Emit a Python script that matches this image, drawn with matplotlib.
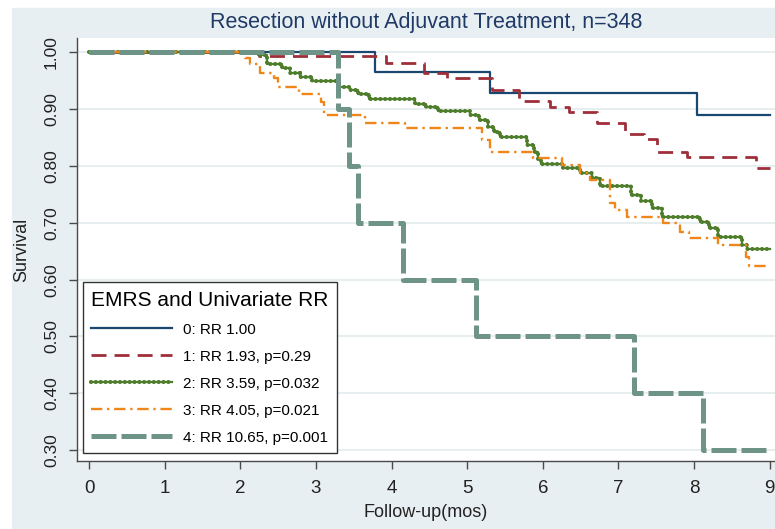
import numpy as np
import matplotlib
matplotlib.use("Agg")
import matplotlib.pyplot as plt
from matplotlib.patches import Rectangle

# ------------------------------------------------------------
# Data
# ------------------------------------------------------------
title = "Resection without Adjuvant Treatment, n=348"
legend_title = "EMRS and Univariate RR"
labels = [
    "0: RR 1.00",
    "1: RR 1.93, p=0.29",
    "2: RR 3.59, p=0.032",
    "3: RR 4.05, p=0.021",
    "4: RR 10.65, p=0.001",
]

x_end = 9.0

# step times (months) and survival after each step
t0 = [3.78, 5.30, 8.04]
s0 = [0.965, 0.928, 0.890]

t1 = [2.25, 3.92, 4.43, 4.73, 5.33, 5.68, 6.09, 6.34, 6.71, 7.08, 7.34, 7.51,
      7.91, 8.82]
s1 = [0.993, 0.981, 0.963, 0.954, 0.933, 0.915, 0.904, 0.895, 0.876, 0.857,
      0.847, 0.825, 0.816, 0.796]

t2 = [2.24, 2.35, 2.55, 2.66, 2.79, 2.95, 3.30, 3.45, 3.55, 3.70, 4.31, 4.45,
      4.62, 5.04, 5.15, 5.28, 5.36, 5.44, 5.79, 5.88, 5.94, 5.98, 6.27, 6.49,
      6.65, 6.76, 7.16, 7.30, 7.45, 7.58, 8.08, 8.20, 8.31, 8.64, 8.70]
s2 = [0.995, 0.980, 0.972, 0.964, 0.957, 0.950, 0.939, 0.933, 0.926, 0.917,
      0.909, 0.904, 0.897, 0.889, 0.880, 0.868, 0.859, 0.850, 0.837, 0.824,
      0.813, 0.803, 0.796, 0.787, 0.779, 0.765, 0.749, 0.738, 0.726, 0.711,
      0.702, 0.690, 0.675, 0.661, 0.654]

t3 = [2.06, 2.13, 2.26, 2.44, 2.50, 2.77, 3.06, 3.10, 3.65, 4.18, 5.20, 5.30,
      5.87, 6.25, 6.49, 6.63, 6.89, 6.95, 7.11, 7.59, 7.82, 7.93, 8.31, 8.68,
      8.72]
s3 = [0.990, 0.980, 0.963, 0.955, 0.939, 0.927, 0.913, 0.889, 0.876, 0.866,
      0.845, 0.825, 0.814, 0.801, 0.787, 0.775, 0.735, 0.722, 0.711, 0.700,
      0.684, 0.673, 0.661, 0.640, 0.624]

t4 = [3.29, 3.44, 3.55, 4.15, 5.11, 7.21, 8.12]
s4 = [0.90, 0.80, 0.70, 0.60, 0.50, 0.40, 0.30]

x_ticks = list(range(0, 10))
y_ticks = [0.30, 0.40, 0.50, 0.60, 0.70, 0.80, 0.90, 1.00]

# ------------------------------------------------------------
# Style
# ------------------------------------------------------------
BG = "#e8eff2"
GRID = "#e2ebee"
AXIS = "#4a4a4a"
C_BLUE = "#1a476f"
C_RED = "#9e2f3a"
C_GREEN = "#4e7d2b"
C_ORANGE = "#f08519"
C_TEAL = "#6e9387"

FONT = "Liberation Sans"


def curve(times, surv):
    x = np.r_[0.0, times, x_end]
    y = np.r_[1.0, surv, surv[-1]]
    return x, y


fig = plt.figure(figsize=(7.75, 5.29), dpi=100)
fig.patch.set_facecolor("white")
fig.patches.append(Rectangle((12 / 775, 0), 1, 1 - 8 / 529,
                             transform=fig.transFigure, color=BG, zorder=-10))

ax = fig.add_axes([77 / 775, 1 - 461 / 529, 1 - 77 / 775, (461 - 38) / 529])
ax.set_facecolor("white")
ax.set_xlim(-0.16, 9.07)
ax.set_ylim(0.281, 1.025)

for y in y_ticks:
    ax.axhline(y, color=GRID, lw=1.2, zorder=0)

# curves
x, y = curve(t0, s0)
h0, = ax.step(x, y, where="post", color=C_BLUE, lw=1.6)

x, y = curve(t1, s1)
h1, = ax.step(x, y, where="post", color=C_RED, lw=2.0,
              linestyle=(0, (5.4, 2.9)))

x, y = curve(t2, s2)
h2a, = ax.step(x, y, where="post", color=C_GREEN, lw=1.6)
h2b, = ax.step(x, y, where="post", color=C_GREEN, lw=3.0,
               linestyle=(0, (0.01, 1.15)), dash_capstyle="round")

x, y = curve(t3, s3)
h3, = ax.step(x, y, where="post", color=C_ORANGE, lw=1.7,
              linestyle=(0, (4.8, 2.0, 1.0, 2.0)))

x, y = curve(t4, s4)
h4, = ax.step(x, y, where="post", color=C_TEAL, lw=3.6,
              linestyle=(0, (5.0, 1.0)))

# axes
for side in ["top", "right"]:
    ax.spines[side].set_visible(False)
for side in ["left", "bottom"]:
    ax.spines[side].set_color(AXIS)
    ax.spines[side].set_linewidth(1.0)

ax.set_xticks(x_ticks)
ax.set_xticklabels([str(v) for v in x_ticks], family=FONT, fontsize=13.5)
ax.set_yticks(y_ticks)
ax.set_yticklabels([f"{v:.2f}" for v in y_ticks], family=FONT, fontsize=12.5,
                   rotation=90, va="center")
ax.tick_params(axis="both", direction="out", length=6, width=1.0,
               color=AXIS, labelcolor="#222222")
ax.tick_params(axis="x", pad=8)
ax.tick_params(axis="y", pad=7)

ax.set_xlabel("Follow-up(mos)", family=FONT, fontsize=13, color="#222222",
              labelpad=5)
ax.set_ylabel("Survival", family=FONT, fontsize=13, color="#222222",
              labelpad=10)
ax.set_title(title, family=FONT, fontsize=15.5, color="#1f3a66", pad=7)

leg = ax.legend([h0, h1, (h2a, h2b), h3, h4], labels,
                title=legend_title, loc="lower left",
                bbox_to_anchor=(0.0086, 0.019), borderaxespad=0,
                fancybox=False, framealpha=1, edgecolor="#333333",
                prop={"family": FONT, "size": 11},
                title_fontproperties={"family": FONT, "size": 15},
                handlelength=5.3, handletextpad=0.7, labelspacing=0.85,
                borderpad=0.55)
leg.get_frame().set_linewidth(1.0)
leg._legend_box.align = "left"

fig.savefig("out.png", dpi=100, facecolor=fig.get_facecolor())
